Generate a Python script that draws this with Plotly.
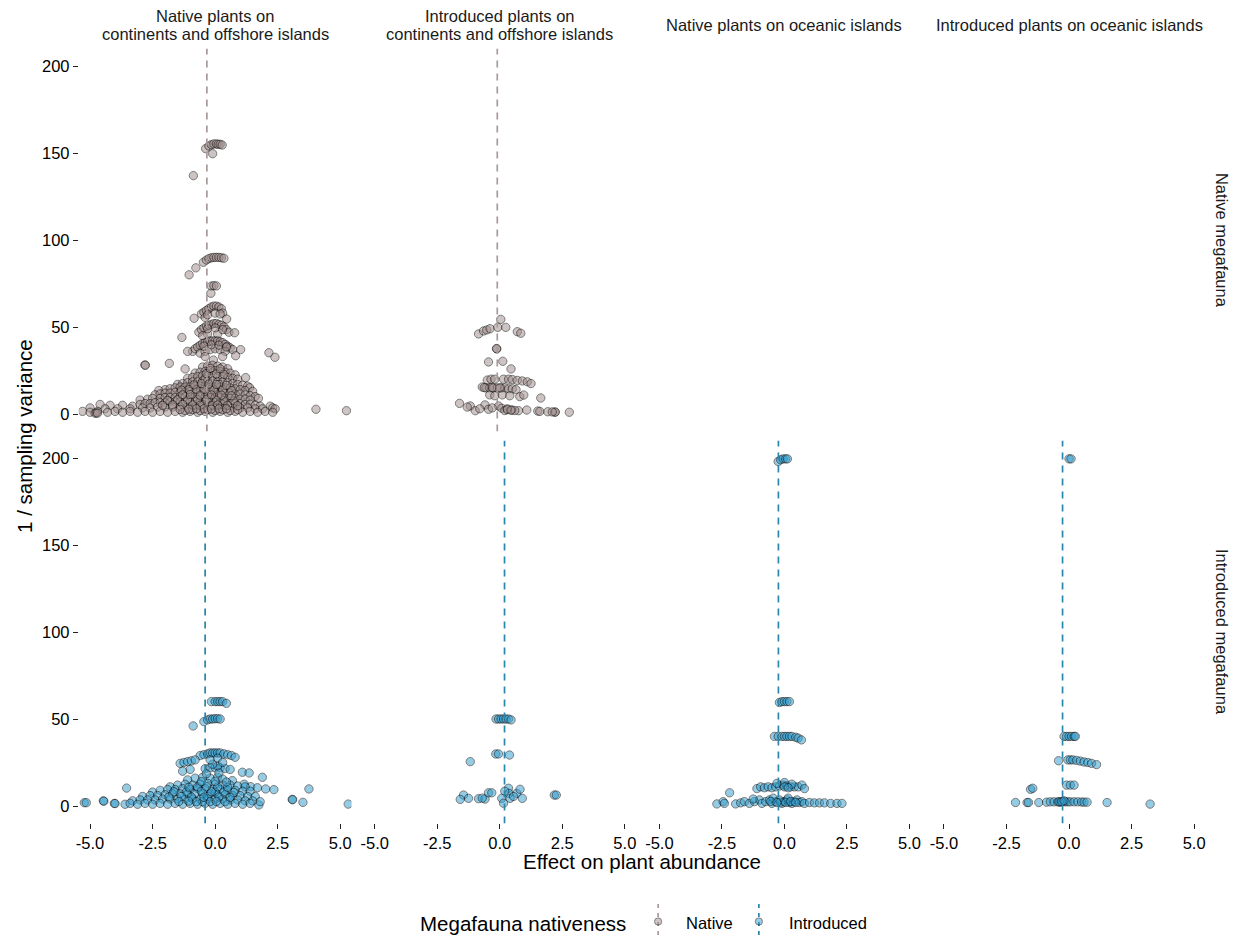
import plotly.graph_objects as go

W, H = 1239, 938

# ---------------- data ----------------
col_labels = [
    ["Native plants on", "continents and offshore islands"],
    ["Introduced plants on", "continents and offshore islands"],
    ["Native plants on oceanic islands"],
    ["Introduced plants on oceanic islands"],
]
row_labels = ["Native megafauna", "Introduced megafauna"]
x_tick_vals = [-5.0, -2.5, 0.0, 2.5, 5.0]
x_tick_text = ["-5.0", "-2.5", "0.0", "2.5", "5.0"]
y_tick_vals = [0, 50, 100, 150, 200]
y_tick_text = ["0", "50", "100", "150", "200"]

# Native megafauna, native plants on continents / offshore islands
nat_meg_nat_cont = [
    (-0.38, 152.5), (-0.25, 154), (-0.15, 154.8), (-0.05, 155.2), (0.05, 155.2), (0.12, 155), (0.2, 155),
    (0.28, 154.6), (-0.1, 149.6), (-0.87, 137),
    (-1.04, 80), (-0.77, 84), (-0.47, 87.2), (-0.35, 88.5), (-0.25, 89.3), (-0.15, 89.8), (-0.05, 90),
    (0.05, 90), (0.15, 90), (0.25, 89.8), (0.35, 89.5),
    (-0.15, 73.5), (-0.05, 73.8), (0.05, 73.6), (-0.17, 69.4),
    (-0.55, 57.5), (-0.45, 58.5), (-0.35, 59.5), (-0.25, 60.5), (-0.15, 61.5), (-0.05, 62), (0.05, 62),
    (0.15, 61.5), (0.25, 60.5), (0.3, 58), (-0.4, 55.5), (-0.84, 55), (0.46, 54.6),
    (-0.65, 47), (-0.55, 48.5), (-0.45, 49.5), (-0.35, 50.5), (-0.25, 51), (-0.15, 51.5), (-0.05, 52),
    (0.05, 52), (0.15, 51.5), (0.25, 51), (0.35, 50), (0.45, 48.5), (0.55, 47), (0.78, 46.7), (-1.33, 44),
    (-0.3, 46), (0.1, 46), (-0.5, 45),
    (-0.9, 36), (-0.8, 37.5), (-0.7, 38.5), (-0.6, 39.5), (-0.5, 40.5), (-0.4, 41), (-0.3, 41.5), (-0.2, 42),
    (-0.1, 42), (0, 42), (0.1, 42), (0.2, 41.5), (0.3, 41), (0.4, 40), (0.5, 39), (0.6, 38), (0.7, 37),
    (-0.6, 35), (-0.4, 36), (-0.2, 37), (0, 37.5), (0.2, 37), (0.4, 36), (-1.1, 36), (1.02, 37), (0.82, 33.5),
    (2.15, 35.2), (2.39, 32.6), (-0.4, 33), (0.3, 33), (-0.07, 31),
    (-2.81, 28.2), (-2.79, 28.0), (-1.83, 29.1), (-1.2, 25.9),
    (-0.5, 27), (-0.3, 27.5), (-0.1, 28), (0.1, 27.5), (0.3, 27), (0.5, 26),
    (-0.8, 23.5), (-0.6, 24), (-0.4, 24.5), (-0.2, 25), (0, 25), (0.2, 24.5), (0.4, 24), (0.6, 23.5), (0.8, 22.5),
    (-1.1, 20.5), (-0.9, 21), (-0.7, 21.5), (-0.5, 22), (-0.3, 22), (-0.1, 22), (0.1, 21.5), (0.3, 21.5),
    (0.5, 21), (0.7, 20.5), (0.9, 20), (1.22, 20.9),
    (-1.5, 17), (-1.3, 17.5), (-1.1, 18), (-0.9, 18.5), (-0.7, 18.5), (-0.5, 19), (-0.3, 19), (-0.1, 19),
    (0.1, 18.5), (0.3, 18.5), (0.5, 18), (0.7, 17.5), (0.9, 17), (1.1, 16.5), (1.3, 16), (1.38, 15.1),
    (-2.0, 14), (-1.8, 14.5), (-1.6, 15), (-1.4, 15.5), (-1.2, 15.5), (-1.0, 15.5), (-0.8, 16), (-0.6, 16),
    (-0.4, 16), (-0.2, 15.5), (0, 15.5), (0.2, 15.5), (0.4, 15), (0.6, 15), (0.8, 14.5), (1.0, 14), (1.2, 13.5),
    (1.5, 13), (-2.25, 13.5),
    (-2.4, 11), (-2.2, 11.5), (-2.0, 12), (-1.8, 12), (-1.6, 12.5), (-1.4, 12.5), (-1.2, 12.5), (-1.0, 13),
    (-0.8, 13), (-0.6, 13), (-0.4, 12.5), (-0.2, 12.5), (0, 12.5), (0.2, 12), (0.4, 12), (0.6, 12), (0.8, 11.5),
    (1.0, 11.5), (1.2, 11), (1.4, 10.5), (1.6, 10),
    (-3.0, 8), (-2.7, 8.5), (-2.5, 9), (-2.2, 9), (-2.0, 9.5), (-1.8, 9.5), (-1.6, 9.5), (-1.4, 10), (-1.2, 10),
    (-1.0, 10), (-0.8, 10), (-0.6, 10), (-0.4, 9.5), (-0.2, 9.5), (0, 9.5), (0.2, 9.5), (0.4, 9), (0.6, 9),
    (0.8, 9), (1.0, 8.5), (1.2, 8.5), (1.4, 8), (1.73, 9),
    (-4.6, 5.5), (-4.2, 5), (-3.7, 5), (-3.3, 4.5), (-3, 5.5), (-2.8, 6), (-2.6, 6), (-2.4, 6.5), (-2.2, 6.5),
    (-2.0, 6.5), (-1.8, 7), (-1.6, 7), (-1.4, 7), (-1.2, 7), (-1.0, 7), (-0.8, 7), (-0.6, 7), (-0.4, 7),
    (-0.2, 7), (0, 6.5), (0.2, 6.5), (0.4, 6.5), (0.6, 6), (0.8, 6), (1.0, 6), (1.2, 5.5), (1.4, 5.5),
    (1.6, 5), (1.8, 4.5), (2.2, 4.5), (2.3, 3.5),
    (-5.0, 3.5), (-4.4, 3), (-3.9, 3), (-3.4, 3), (-2.9, 3.5), (-2.6, 3.5), (-2.3, 4), (-2.0, 4), (-1.7, 4),
    (-1.4, 4), (-1.1, 4), (-0.8, 4), (-0.5, 4), (-0.2, 4), (0.1, 4), (0.4, 4), (0.7, 3.5), (1.0, 3.5),
    (1.3, 3.5), (1.6, 3), (1.9, 3), (2.4, 3),
    (-5.3, 1.5), (-5.0, 1), (-4.7, 1.5), (-4.3, 1), (-4.0, 1.5), (-3.7, 1), (-3.4, 1.5), (-3.1, 1), (-2.8, 1.5),
    (-2.5, 1), (-2.2, 1.5), (-1.9, 1), (-1.6, 1.5), (-1.3, 1), (-1.0, 1.5), (-0.7, 1), (-0.4, 1.5), (-0.1, 1),
    (0.2, 1.5), (0.5, 1), (0.8, 1.5), (1.1, 1), (1.4, 1.5), (1.7, 1), (2.0, 1.5), (2.3, 1),
    (4.03, 2.7), (5.25, 1.9), (-4.8, 0.5), (-4.75, 0.6), (-4.7, 0.5),
    (-0.3, 2.5), (0.0, 2.0), (0.3, 2.5), (-0.6, 2.0), (0.6, 2.0), (-0.9, 2.5), (0.9, 2.5), (-1.2, 2.0),
    (-0.5, 5.5), (-0.1, 5.0), (0.3, 5.5), (-0.3, 11), (0.1, 11), (-0.2, 14), (0.15, 17), (-0.4, 20),
    (-0.7, 8.2), (-0.35, 8.5), (0.05, 8.0), (0.35, 7.8), (0.75, 7.5), (-1.1, 8.0), (-1.5, 8.2), (-1.9, 7.8),
    (-0.9, 5.2), (-0.6, 5.0), (0.1, 5.2), (0.5, 5.0), (0.9, 4.8), (-1.3, 5.5), (-1.7, 5.3), (-2.1, 5.0),
    (-0.75, 14.0), (-0.45, 14.2), (-0.05, 13.8), (0.3, 13.8), (0.65, 13.5), (-1.05, 14.0), (-1.35, 13.8),
    (-0.55, 17.5), (-0.25, 17.2), (0.05, 17.0), (0.45, 16.5), (-0.85, 16.8),
    (-0.6, 10.8), (-0.15, 11.0), (0.25, 10.8), (0.65, 10.5), (-1.0, 11.2), (-1.3, 11.0),
    (-0.45, 3.0), (-0.15, 2.8), (0.15, 3.0), (0.45, 3.0), (-0.75, 3.0), (-1.05, 2.8), (-1.4, 2.6),
    (-0.35, 23.2), (0.05, 23.0), (0.35, 22.8), (-0.2, 26.2), (0.2, 26.0),
    (-0.45, 39.0), (-0.15, 39.8), (0.15, 39.6), (0.45, 38.5), (-0.3, 49.0), (0.0, 49.5), (0.3, 48.5),
    (-0.3, 57.0), (0.0, 58.0), (0.2, 57.5),
]

# Native megafauna, introduced plants on continents / offshore islands
nat_meg_int_cont = [
    (0.04, 54.4), (-0.85, 46), (-0.65, 47.7), (-0.52, 48.3), (-0.39, 49), (-0.08, 49.8), (0.24, 49.8),
    (0.7, 47.3), (0.84, 46.4), (-0.12, 37.4), (-0.13, 37.6),
    (-0.45, 29.9), (0.12, 30.3), (0.45, 25.9),
    (-0.5, 19.5), (-0.35, 20), (-0.2, 20), (0.15, 20), (0.35, 20), (0.5, 19.8), (0.7, 19.3), (0.9, 19),
    (1.1, 18.5), (1.25, 17.5),
    (-0.7, 15.5), (-0.55, 15), (-0.4, 15), (-0.25, 15), (-0.1, 15), (0.05, 15), (0.2, 15), (0.35, 14.5),
    (0.5, 14.5), (0.65, 14),
    (-0.4, 11), (-0.2, 10.5), (0.1, 11), (0.4, 10.5), (0.8, 10), (0.96, 10.9), (1.64, 9.2),
    (-1.61, 6.1), (-1.18, 4.6), (-0.98, 1.9), (-0.59, 5.2), (-0.45, 2.7), (-0.05, 4.6), (0.08, 3.3),
    (0.48, 2.3), (0.75, 1.9), (1.08, 2.3), (1.52, 1.7), (1.92, 1.3), (2.2, 1.1), (2.22, 1.1), (2.78, 1.0),
    (-1.3, 4), (-0.8, 3), (-0.3, 3.5), (0.2, 2), (0.3, 3.0), (0.6, 2.0), (1.6, 1.5), (2.1, 1.2),
    (-0.62, 15.2), (-0.3, 15.1), (0.0, 15.0), (0.3, 2.5), (0.45, 2.2),
]

# Introduced megafauna, native plants on continents / offshore islands
int_meg_nat_cont = [
    (-0.15, 60), (0, 60), (0.1, 60), (0.2, 60), (0.3, 60), (0.45, 59),
    (-0.45, 48.5), (-0.3, 49.5), (-0.2, 50), (-0.1, 50), (0, 50.2), (0.1, 50.2), (0.2, 50), (-0.88, 46),
    (-0.6, 29), (-0.45, 29.5), (-0.3, 30), (-0.2, 30.5), (-0.1, 30.5), (0, 30.5), (0.1, 30.5), (0.2, 30.5),
    (0.35, 30), (0.5, 29.5), (0.65, 29), (0.8, 28),
    (-1.4, 24.5), (-1.25, 25), (-1.1, 25.5), (-0.95, 26), (-0.8, 26.5),
    (-0.4, 21.5), (-0.2, 22), (0, 22), (0.2, 22), (0.4, 21.5), (0.6, 21), (-1.0, 21), (-1.3, 20),
    (1.09, 19.4), (1.36, 19), (1.89, 16.5), (1.16, 12.5), (1.42, 11.1), (1.69, 10.5), (2.02, 9.8),
    (2.35, 9.4), (3.75, 9.8), (3.08, 3.8), (3.1, 3.6), (3.51, 2.1), (5.32, 1.1), (1.75, 0.6),
    (-3.54, 10.3), (-5.23, 1.9), (-5.15, 1.9), (-4.47, 2.9), (-4.45, 2.8), (-4.03, 1.5), (-4.0, 1.4), (-3.6, 1.0),
    (-0.8, 16), (-0.5, 16.5), (-0.2, 16), (0.1, 16.5), (0.3, 15.5), (-1.1, 15), (0.69, 14.6),
    (-1.8, 11), (-1.5, 12), (-1.2, 12.5), (-0.9, 12), (-0.6, 12.5), (-0.3, 13), (0, 12.5), (0.3, 12), (0.6, 12),
    (0.9, 11.5), (1.2, 11),
    (-2.5, 8), (-2.2, 9), (-1.9, 9.5), (-1.6, 9.5), (-1.3, 10), (-1.0, 9.5), (-0.7, 10), (-0.4, 10), (-0.1, 9.5),
    (0.2, 9.5), (0.5, 9), (0.8, 9), (1.1, 8.5), (1.4, 8.5),
    (-2.9, 5.5), (-2.6, 6), (-2.3, 6), (-2.0, 6.5), (-1.7, 7), (-1.4, 7), (-1.1, 7), (-0.8, 7), (-0.5, 7),
    (-0.2, 7), (0.1, 6.5), (0.4, 6.5), (0.7, 6), (1.0, 6), (1.3, 5.5), (1.6, 5.5),
    (-3.3, 3), (-3.0, 3.5), (-2.7, 3.5), (-2.4, 3.5), (-2.1, 4), (-1.8, 4), (-1.5, 4), (-1.2, 4), (-0.9, 4),
    (-0.6, 4), (-0.3, 4), (0, 4), (0.3, 4), (0.6, 3.5), (0.9, 3.5), (1.2, 3), (1.5, 3), (1.8, 2.5),
    (-3.4, 1.5), (-3.1, 1), (-2.8, 1.5), (-2.5, 1), (-2.2, 1.5), (-1.9, 1), (-1.6, 1.5), (-1.3, 1), (-1.0, 1.5),
    (-0.7, 1), (-0.4, 1.5), (-0.1, 1), (0.2, 1.5), (0.5, 1), (0.8, 1.5), (1.1, 1), (1.4, 1.5),
    (-0.5, 2.5), (-0.3, 5.5), (0.0, 8), (-0.7, 11), (-0.2, 2.5), (0.4, 2.5), (0.1, 23), (-0.1, 24),
    (-1.65, 8.2), (-1.15, 8.0), (-0.55, 8.5), (-0.15, 8.2), (0.35, 8.0), (0.75, 7.8), (-0.95, 5.2),
    (-0.45, 5.0), (0.15, 5.2), (0.6, 5.0), (-1.35, 5.5), (-1.85, 5.2), (-0.75, 2.5), (0.05, 2.6),
    (-1.05, 2.8), (-1.45, 2.6), (-0.35, 11.2), (0.1, 11.0), (0.5, 10.8), (-1.05, 10.8), (-0.55, 14.0),
    (0.0, 14.2), (0.45, 13.8), (-0.35, 18.5), (0.15, 19.0), (0.1, 27.5), (-0.2, 26.5), (0.3, 25.0),
]

# Introduced megafauna, introduced plants on continents / offshore islands
int_meg_int_cont = [
    (-0.15, 50), (-0.05, 50), (0.05, 50), (0.15, 50), (0.25, 50), (0.35, 50), (0.45, 49.5),
    (-0.16, 29.9), (-0.05, 29.9), (0.39, 29.3), (-1.18, 25.5),
    (-1.45, 6.3), (-1.25, 4.4), (-1.58, 3.8), (-0.85, 4.2), (-0.59, 4.0), (-0.45, 7.6), (-0.32, 7.6),
    (0.08, 4.4), (0.15, 1.6), (0.35, 10.2), (0.37, 7.3), (0.41, 4.4), (0.68, 7.3), (0.81, 9.6), (0.9, 4.4),
    (2.18, 6.3), (2.26, 6.3), (-0.7, 4.5), (0.2, 8.5), (0.55, 5.5),
]

# Introduced megafauna, native plants on oceanic islands
int_meg_nat_ocean = [
    (-0.25, 198), (-0.15, 199), (-0.05, 199.5), (0.05, 199.5), (0.12, 199.5),
    (-0.2, 59.5), (-0.1, 60), (0, 60), (0.1, 60), (0.2, 60),
    (-0.4, 40), (-0.25, 40), (-0.1, 40), (0, 40), (0.1, 40), (0.2, 40), (0.3, 40), (0.45, 39.5), (0.55, 39),
    (0.68, 38),
    (-2.19, 7.6), (-1.1, 10), (-0.95, 11), (-0.8, 10.5), (-0.65, 11), (-0.5, 10.5), (-0.35, 11), (-0.2, 11.5),
    (-0.05, 12), (0.0, 13.5), (0.1, 11.5), (0.25, 11), (0.4, 11), (0.55, 11), (0.7, 12), (0.8, 10), (-0.3, 13),
    (0.3, 12.5),
    (-2.7, 1.2), (-2.45, 2.5), (-2.4, 1.5), (-1.95, 1.2), (-1.75, 1.8), (-1.6, 2.5), (-1.4, 1.5), (-1.2, 2.5),
    (-1.0, 3.5), (-0.9, 1.5), (-0.75, 2.5), (-0.6, 3.5), (-0.5, 1.5), (-0.35, 2.5), (-0.2, 3.5), (-0.1, 1.5),
    (0, 2.5), (0.1, 3.5), (0.2, 2), (0.3, 1.5), (0.4, 2.5), (0.5, 3.5), (0.6, 2), (0.7, 2.5), (0.8, 1.5),
    (1.0, 2), (1.2, 1.8), (1.4, 1.8), (1.6, 1.8), (1.85, 1.5), (2.1, 1.5), (2.3, 1.5), (-0.45, 4.5),
    (0.15, 4.5), (-1.25, 4),
    (-0.15, 2.2), (0.05, 2.0), (0.25, 2.6), (0.45, 2.0), (-0.55, 2.6), (-0.3, 2.0), (0.0, 11.0), (0.15, 10.5),
]

# Introduced megafauna, introduced plants on oceanic islands
int_meg_int_ocean = [
    (0.0, 199.5), (0.08, 199.5),
    (-0.2, 40), (-0.1, 40), (0, 40), (0.1, 40), (0.2, 40), (0.25, 40),
    (-0.42, 26), (-0.05, 26.5), (0.05, 26.5), (0.15, 26.5), (0.3, 26.2), (0.45, 25.8), (0.6, 25.3),
    (0.75, 25), (0.9, 24.5), (1.1, 23.8),
    (-0.1, 12), (0.05, 12), (0.2, 12), (-1.54, 9.6), (-1.45, 10.2),
    (-2.14, 2.0), (-1.68, 2.0), (-1.62, 2.0), (-1.21, 2.0), (-0.9, 2.2), (-0.75, 2.4), (-0.6, 2.4),
    (-0.45, 2.4), (-0.35, 2.2), (-0.25, 2.5), (-0.15, 2.4), (-0.05, 2.4), (0.05, 2.4), (0.2, 2.4),
    (0.35, 2.4), (0.5, 2.3), (0.6, 2.2), (0.72, 2.2), (1.52, 2.0), (3.24, 1.1), (-0.4, 2.4), (-0.3, 2.5),
    (-0.2, 3.0),
]

# panel index (0..7, row-major), data, group
panels = [
    (0, nat_meg_nat_cont, "Native"),
    (1, nat_meg_int_cont, "Native"),
    (4, int_meg_nat_cont, "Introduced"),
    (5, int_meg_int_cont, "Introduced"),
    (6, int_meg_nat_ocean, "Introduced"),
    (7, int_meg_int_ocean, "Introduced"),
]
# mean effect per panel (dashed vertical lines)
mean_effects = [(0, -0.33), (1, -0.1), (4, -0.4), (5, 0.19), (6, -0.24), (7, -0.26)]

legend_groups = ["Native", "Introduced"]

# ---------------- styling ----------------
FONT = "Liberation Sans, Arial, Helvetica, sans-serif"
point_fill = {"Native": "rgb(160,142,141)", "Introduced": "rgb(52,158,206)"}
line_col = {"Native": "#a99a9a", "Introduced": "#2a86aa"}
group_of_panel = {0: "Native", 1: "Native", 2: "Native", 3: "Native",
                  4: "Introduced", 5: "Introduced", 6: "Introduced", 7: "Introduced"}

X_RANGE = [-5.45, 5.45]
Y_RANGE = [-10, 210]
panel_left0 = 76.0
panel_pitch = 285.33
panel_w = 273.3
row_tops = [48.6, 440.6]
panel_h = 382.8


def fx(p):
    return p / W


def fy(p):
    return 1 - p / H


fig = go.Figure()

for idx, pts, grp in panels:
    fig.add_trace(go.Scatter(
        x=[p[0] for p in pts], y=[p[1] for p in pts],
        mode="markers",
        xaxis=f"x{idx + 1}", yaxis=f"y{idx + 1}",
        marker=dict(size=8.3, color=point_fill[grp], opacity=0.52,
                    line=dict(color="black", width=1)),
        showlegend=False, hoverinfo="x+y",
    ))

for idx, m in mean_effects:
    grp = group_of_panel[idx]
    fig.add_trace(go.Scatter(
        x=[m, m], y=Y_RANGE, mode="lines",
        xaxis=f"x{idx + 1}", yaxis=f"y{idx + 1}",
        line=dict(color=line_col[grp], width=1.7, dash="7px,6px"),
        showlegend=False, hoverinfo="skip",
    ))

layout = dict(
    width=W, height=H,
    margin=dict(l=0, r=0, t=0, b=0),
    paper_bgcolor="white", plot_bgcolor="white",
    font=dict(family=FONT, color="black"),
    showlegend=False,
)

for i in range(8):
    row, col = divmod(i, 4)
    left = panel_left0 + panel_pitch * col
    top = row_tops[row]
    layout[f"xaxis{i + 1}"] = dict(
        domain=[fx(left), fx(left + panel_w)], range=X_RANGE, anchor=f"y{i + 1}",
        showgrid=False, zeroline=False, showline=False,
        ticks="outside" if row == 1 else "", showticklabels=(row == 1),
        tickvals=x_tick_vals, ticktext=x_tick_text,
        ticklen=5, tickwidth=1.3, tickcolor="#222",
        tickfont=dict(size=16.5, color="black", family=FONT),
        fixedrange=True,
    )
    layout[f"yaxis{i + 1}"] = dict(
        domain=[fy(top + panel_h), fy(top)], range=Y_RANGE, anchor=f"x{i + 1}",
        showgrid=False, zeroline=False, showline=False,
        ticks="outside" if col == 0 else "", showticklabels=(col == 0),
        tickvals=y_tick_vals, ticktext=y_tick_text,
        ticklen=5, tickwidth=1.3, tickcolor="#222",
        tickfont=dict(size=16.5, color="black", family=FONT),
        fixedrange=True,
    )

fig.update_layout(**layout)

annotations = []
# column strips
for col, lines in enumerate(col_labels):
    cx = panel_left0 + panel_pitch * col + panel_w / 2
    if len(lines) == 2:
        ys = [16, 34]
    else:
        ys = [25]
    for txt, yy in zip(lines, ys):
        annotations.append(dict(text=txt, x=fx(cx), y=fy(yy), xref="paper", yref="paper",
                                xanchor="center", yanchor="middle", showarrow=False,
                                font=dict(size=16.5, color="#1a1a1a", family=FONT)))
# row strips
for row, txt in enumerate(row_labels):
    cy = row_tops[row] + panel_h / 2
    annotations.append(dict(text=txt, x=fx(1222), y=fy(cy), xref="paper", yref="paper",
                            xanchor="center", yanchor="middle", textangle=90, showarrow=False,
                            font=dict(size=16.5, color="#1a1a1a", family=FONT)))
# axis titles
annotations.append(dict(text="Effect on plant abundance", x=fx(641), y=fy(861), xref="paper", yref="paper",
                        xanchor="center", yanchor="middle", showarrow=False,
                        font=dict(size=20.5, color="black", family=FONT)))
annotations.append(dict(text="1 / sampling variance", x=fx(22), y=fy(436), xref="paper", yref="paper",
                        xanchor="center", yanchor="middle", textangle=-90, showarrow=False,
                        font=dict(size=20.5, color="black", family=FONT)))
# legend
annotations.append(dict(text="Megafauna nativeness", x=fx(416), y=fy(923), xref="paper", yref="paper",
                        xanchor="left", yanchor="middle", showarrow=False,
                        font=dict(size=20.5, color="black", family=FONT)))
legend_key_x = [656.7, 757.7]
legend_text_x = [683, 786]
shapes = []
for grp, kx, tx in zip(legend_groups, legend_key_x, legend_text_x):
    annotations.append(dict(text=grp, x=fx(tx), y=fy(923), xref="paper", yref="paper",
                            xanchor="left", yanchor="middle", showarrow=False,
                            font=dict(size=16.5, color="black", family=FONT)))
    shapes.append(dict(type="line", xref="paper", yref="paper", x0=fx(kx), x1=fx(kx),
                       y0=fy(904), y1=fy(937), line=dict(color=line_col[grp], width=1.7, dash="4px,5px")))
    r = 3.6
    shapes.append(dict(type="circle", xref="paper", yref="paper",
                       x0=fx(kx - r), x1=fx(kx + r), y0=fy(921.5 + r), y1=fy(921.5 - r),
                       fillcolor=point_fill[grp], opacity=0.5, line=dict(color="black", width=1)))

fig.update_layout(annotations=annotations, shapes=shapes)

fig.write_html("out.html")
